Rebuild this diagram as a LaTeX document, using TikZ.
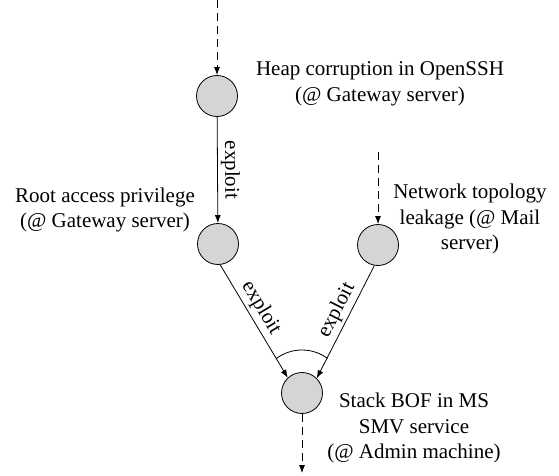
\documentclass[tikz,border=0pt]{standalone}
\usepackage{fontspec}
\setmainfont{Liberation Serif}
\usetikzlibrary{arrows.meta}
\definecolor{stategray}{RGB}{212,213,215}

\begin{document}
\begin{tikzpicture}[x=1pt,y=1pt,
  state/.style={circle,draw,fill=stategray,minimum size=41pt,inner sep=0pt,line width=0.8pt},
  desc/.style={align=center,inner sep=0pt,font=\fontsize{21}{25.5}\selectfont},
  flow/.style={line width=0.8pt,-{Latex[length=8pt,width=6pt]}},
  feed/.style={flow,dash pattern=on 8pt off 5pt},
  lbl/.style={font=\fontsize{21}{25}\selectfont,sloped,above,inner sep=3pt}]
\useasboundingbox (0,0) rectangle (559,475);

\node[state] (heap) at (217,379) {};
\node[state] (root) at (218,231) {};
\node[state] (mail) at (378,230) {};
\node[state] (stack) at (302,82) {};

\node[desc] (heaptxt) at (380,391) {Heap corruption in OpenSSH\\(@ Gateway server)};
\node[desc] (roottxt) at (105,265) {Root access privilege\\(@ Gateway server)};
\node[desc] (mailtxt) at (470,256) {Network topology\\leakage (@ Mail\\server)};
\node[desc] (stacktxt) at (414,47) {Stack BOF in MS\\SMV service\\(@ Admin machine)};

\coordinate (in1) at (217,475);
\coordinate (in2) at (378,323);
\coordinate (out) at (302,2);

\draw[feed] (in1) -- (heap);
\draw[feed] (in2) -- (mail);
\draw[feed] (stack) -- (out);
\draw[flow] (heap) -- node[lbl] {exploit} (root);
\draw[flow] (root.-84) -- node[lbl,pos=0.44] {exploit} (stack.133);
\draw[flow] (mail.-100) -- node[lbl,pos=0.45] {exploit} (stack.45);
\draw[line width=0.8pt] ([shift={(53.5:43)}]stack.center) arc[start angle=53.5,end angle=127,radius=43];
\end{tikzpicture}
\end{document}
